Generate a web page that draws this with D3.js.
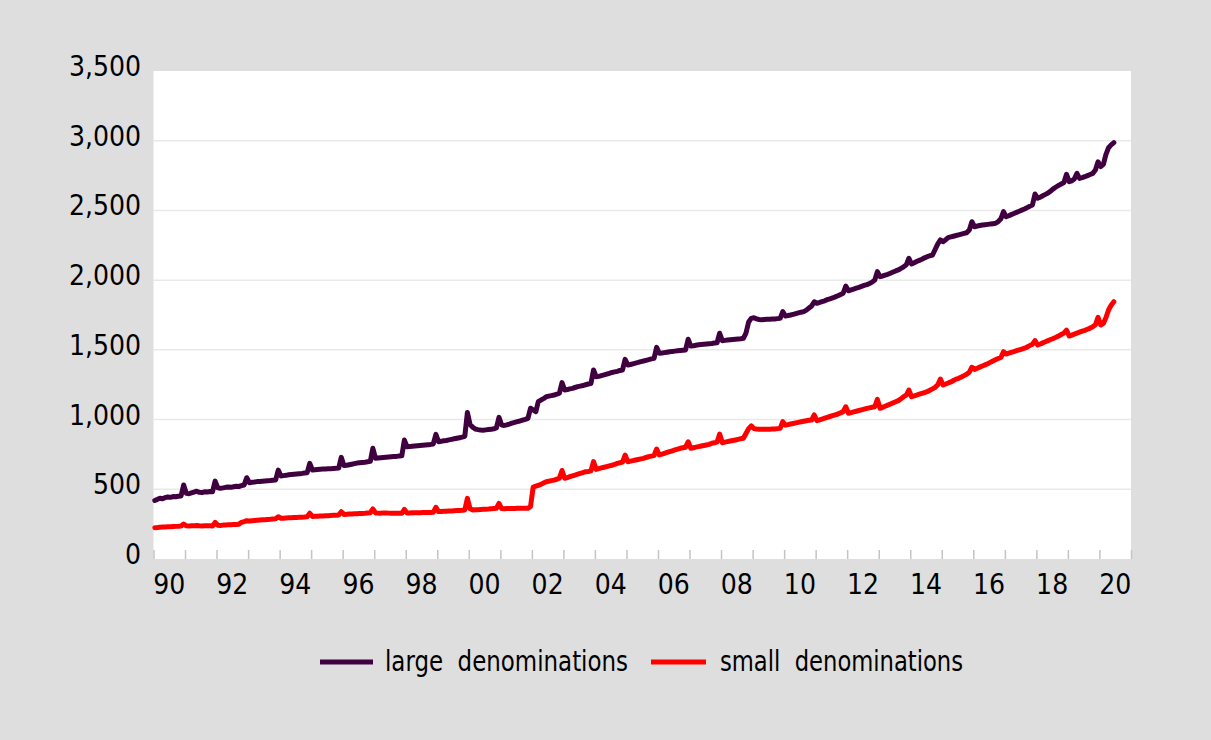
<!DOCTYPE html>
<html>
<head>
<meta charset="utf-8">
<script src="https://cdn.jsdelivr.net/npm/d3@7"></script>
<style>
  html, body { margin: 0; padding: 0; background: #dedede; }
  svg { display: block; }
  .tick-label { font-family: "DejaVu Sans Condensed", "Liberation Sans", sans-serif; font-size: 28px; fill: #000; }
  .legend-label { font-family: "DejaVu Sans Condensed", "Liberation Sans", sans-serif; font-size: 28px; fill: #000; }
</style>
</head>
<body>
<div id="chart"></div>
<script>
// Monthly values, Jan 1990 - Jun 2020
const startYear = 1990;

const largeValues = [
  420,428,436,432,440,445,442,448,446,450,452,531,       // 1990
  471,468,474,480,486,478,476,482,480,484,483,559,       // 1991
  510,507,510,514,516,514,518,522,520,526,531,583,       // 1992
  547,550,552,555,556,558,560,562,563,565,567,638,       // 1993
  595,598,600,604,606,608,610,612,614,617,619,686,       // 1994
  638,640,642,644,645,646,647,648,649,650,652,729,       // 1995
  670,672,676,680,684,688,690,692,694,697,700,794,       // 1996
  722,724,726,728,730,732,734,735,736,738,740,853,       // 1997
  805,806,808,810,812,814,816,818,820,822,825,894,       // 1998
  841,844,848,850,854,858,862,866,870,874,880,1050,      // 1999
  965,945,932,928,925,924,926,928,930,934,940,1016,      // 2000
  961,958,962,968,975,980,985,990,996,1002,1009,1081,    // 2001
  1070,1057,1128,1140,1150,1164,1168,1172,1176,1182,1190,1265, // 2002
  1212,1215,1220,1224,1230,1236,1240,1244,1250,1255,1258,1356, // 2003
  1307,1310,1315,1320,1326,1332,1338,1342,1346,1352,1356,1432, // 2004
  1391,1395,1400,1405,1410,1416,1420,1425,1430,1435,1439,1518, // 2005
  1475,1477,1480,1483,1486,1489,1491,1493,1495,1497,1499,1576, // 2006
  1528,1530,1533,1536,1538,1540,1542,1544,1546,1549,1551,1619, // 2007
  1566,1568,1570,1572,1574,1576,1578,1580,1583,1620,1700,1726, // 2008
  1730,1722,1718,1716,1718,1719,1720,1721,1722,1724,1726,1774, // 2009
  1743,1746,1750,1755,1760,1765,1770,1774,1785,1800,1815,1845, // 2010
  1834,1840,1846,1852,1860,1866,1872,1880,1888,1896,1906,1958, // 2011
  1924,1930,1936,1942,1948,1955,1962,1968,1976,1986,2001,2061, // 2012
  2025,2030,2036,2042,2050,2058,2066,2073,2084,2095,2110,2157, // 2013
  2116,2125,2134,2142,2150,2160,2168,2175,2180,2220,2260,2288, // 2014
  2276,2290,2305,2310,2315,2320,2325,2330,2335,2340,2360,2419, // 2015
  2383,2388,2392,2396,2398,2400,2402,2405,2408,2420,2440,2491, // 2016
  2455,2462,2470,2478,2486,2494,2502,2510,2520,2530,2539,2618, // 2017
  2587,2595,2605,2615,2625,2640,2655,2668,2680,2690,2700,2759, // 2018
  2706,2712,2725,2766,2730,2735,2742,2750,2758,2766,2790,2849, // 2019
  2814,2830,2900,2950,2970,2986                                // 2020
];

const smallValues = [
  225,226,228,229,230,231,232,233,234,235,237,251,       // 1990
  238,237,238,239,240,238,237,238,238,239,237,263,       // 1991
  242,241,243,244,245,246,247,248,250,262,268,275,       // 1992
  272,274,276,278,280,281,282,284,285,287,289,303,       // 1993
  292,293,294,295,296,297,298,299,300,301,303,328,       // 1994
  305,306,307,308,309,310,311,312,313,314,315,339,       // 1995
  320,321,322,323,324,325,326,327,328,330,332,359,       // 1996
  330,329,329,330,330,329,328,328,329,328,328,356,       // 1997
  330,330,331,331,332,332,333,333,334,334,335,371,       // 1998
  340,341,342,343,344,345,346,347,348,349,351,435,       // 1999
  360,352,353,354,355,356,357,358,360,362,364,399,       // 2000
  362,361,362,362,363,363,364,364,364,364,364,375,       // 2001
  516,522,528,535,545,554,558,562,566,572,580,635,       // 2002
  579,584,590,596,602,608,614,620,626,628,632,698,       // 2003
  643,648,653,658,663,668,672,678,686,690,695,746,       // 2004
  698,702,706,710,714,718,722,728,734,738,742,789,       // 2005
  746,752,758,764,770,776,782,788,794,798,802,841,       // 2006
  794,798,802,806,810,814,818,822,830,834,838,896,       // 2007
  834,838,842,846,850,854,858,862,866,900,935,955,       // 2008
  935,932,930,930,930,930,931,932,933,935,937,985,       // 2009
  960,964,968,972,976,980,984,988,992,995,997,1033,      // 2010
  992,998,1004,1010,1016,1022,1028,1034,1040,1048,1057,1092,  // 2011
  1045,1050,1055,1060,1065,1070,1075,1080,1084,1088,1092,1145, // 2012
  1081,1088,1096,1104,1112,1120,1128,1136,1150,1164,1175,1212, // 2013
  1164,1170,1176,1182,1188,1194,1200,1210,1220,1231,1250,1291, // 2014
  1248,1255,1262,1270,1280,1290,1296,1305,1315,1325,1340,1375, // 2015
  1360,1368,1376,1384,1392,1400,1410,1420,1430,1438,1445,1487, // 2016
  1470,1476,1482,1488,1494,1500,1506,1512,1520,1530,1540,1566, // 2017
  1535,1542,1550,1558,1566,1574,1582,1590,1600,1610,1620,1642, // 2018
  1599,1606,1613,1620,1627,1634,1640,1648,1656,1666,1680,1733, // 2019
  1678,1690,1730,1786,1820,1845                                // 2020
];

const seriesNames = ["large denominations", "small denominations"];
const seriesColors = ["#400040", "#ff0000"];
const yTicks = [0, 500, 1000, 1500, 2000, 2500, 3000, 3500];
const xLabelYears = d3.range(1990, 2021, 2);

// Layout
const W = 1211, H = 740;
const plot = {left: 153.5, right: 1131, top: 71, bottom: 559};

const svg = d3.select("#chart")
    .append("svg")
    .attr("width", W)
    .attr("height", H);

svg.append("rect")
    .attr("width", W).attr("height", H)
    .attr("fill", "#dedede");

svg.append("rect")
    .attr("x", plot.left).attr("y", plot.top)
    .attr("width", plot.right - plot.left)
    .attr("height", plot.bottom - plot.top)
    .attr("fill", "#ffffff");

// Scales
const x = d3.scaleTime()
    .domain([new Date(1990, 0, 1), new Date(2021, 0, 1)])
    .range([plot.left, plot.right]);

const y = d3.scaleLinear()
    .domain([0, 3500])
    .range([plot.bottom, plot.top]);

// mid-month date for monthly index i
const monthDate = i => new Date(startYear, i, 16);

// Gridlines
svg.append("g")
    .selectAll("line")
    .data(yTicks.filter(d => d > 0 && d < 3500))
    .enter()
    .append("line")
    .attr("x1", plot.left).attr("x2", plot.right)
    .attr("y1", d => y(d)).attr("y2", d => y(d))
    .attr("stroke", "#e9e9e9")
    .attr("stroke-width", 1.5);

// Y axis labels
svg.append("g")
    .selectAll("text")
    .data(yTicks)
    .enter()
    .append("text")
    .attr("class", "tick-label")
    .attr("x", 141)
    .attr("y", d => y(d) + 5)
    .attr("text-anchor", "end")
    .text(d => d3.format(",")(d));

// X axis: yearly tick marks pointing up, labels every 2 years centred in the year
const xAxis = svg.append("g")
    .attr("transform", `translate(0,${plot.bottom})`)
    .call(d3.axisBottom(x)
        .ticks(d3.timeYear.every(1))
        .tickSize(-9)
        .tickFormat(""));
xAxis.select(".domain").remove();
xAxis.selectAll(".tick line")
    .attr("stroke", "#c4c4c4")
    .attr("stroke-width", 1.5);

svg.append("g")
    .selectAll("text")
    .data(xLabelYears)
    .enter()
    .append("text")
    .attr("class", "tick-label")
    .attr("x", d => (x(new Date(d, 0, 1)) + x(new Date(d + 1, 0, 1))) / 2)
    .attr("y", 594)
    .attr("text-anchor", "middle")
    .text(d => String(d % 100).padStart(2, "0"));

// Lines
const line = d3.line()
    .x((d, i) => x(monthDate(i)))
    .y(d => y(d))
    .curve(d3.curveLinear);

[largeValues, smallValues].forEach((vals, k) => {
    svg.append("path")
        .datum(vals)
        .attr("fill", "none")
        .attr("stroke", seriesColors[k])
        .attr("stroke-width", 5)
        .attr("stroke-linejoin", "round")
        .attr("stroke-linecap", "round")
        .attr("d", line);
});

// Legend
const legendItems = [
    {x1: 320, x2: 373, tx: 385},
    {x1: 651, x2: 706, tx: 720}
];
legendItems.forEach((it, k) => {
    svg.append("line")
        .attr("x1", it.x1).attr("x2", it.x2)
        .attr("y1", 662).attr("y2", 662)
        .attr("stroke", seriesColors[k])
        .attr("stroke-width", 5);
    svg.append("text")
        .attr("class", "legend-label")
        .attr("x", it.tx)
        .attr("y", 671)
        .attr("textLength", 243)
        .attr("lengthAdjust", "spacingAndGlyphs")
        .text(seriesNames[k].replace(" ", "\u00a0\u00a0"));
});
</script>
</body>
</html>
